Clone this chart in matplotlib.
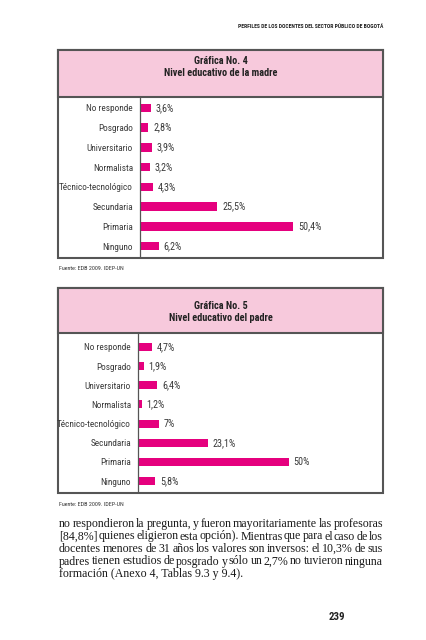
import matplotlib.pyplot as plt
from matplotlib.patches import Rectangle

categorias = ['No responde', 'Posgrado', 'Universitario', 'Normalista',
              'Técnico-tecnológico', 'Secundaria', 'Primaria', 'Ninguno']
madre = [3.6, 2.8, 3.9, 3.2, 4.3, 25.5, 50.4, 6.2]
padre = [4.7, 1.9, 6.4, 1.2, 7.0, 23.1, 50.0, 5.8]

parrafo = [
    'no respondieron la pregunta, y fueron mayoritariamente las profesoras',
    '[84,8%] quienes eligieron esta opción). Mientras que para el caso de los',
    'docentes menores de 31 años los valores son inversos: el 10,3% de sus',
    'padres tienen estudios de posgrado y sólo un 2,7% no tuvieron ninguna',
    'formación (Anexo 4, Tablas 9.3 y 9.4).',
]

W, H = 426, 640
ROSA = '#f7c9dc'
MAGENTA = '#e5007e'
GRIS = '#3a3a3a'
COND = ['Roboto Condensed', 'Sofia Sans Condensed', 'Liberation Sans Narrow', 'DejaVu Sans']

fig = plt.figure(figsize=(W / 100, H / 100), dpi=100)


def fx(x):
    return x / W


def fy(y):
    return 1 - y / H


def etiqueta(v):
    s = f'{v:.1f}'.replace('.', ',')
    if s.endswith(',0'):
        s = s[:-2]
    return s + '%'


def grafica(valores, titulo, top, head, bottom, eje, ylim, xmax, fuente_y, titulo_y):
    left, right = 58, 383
    # caja exterior
    fig.patches.append(Rectangle((fx(left), fy(bottom)), fx(right) - fx(left),
                                 fy(top) - fy(bottom), transform=fig.transFigure,
                                 facecolor='white', edgecolor='#555555', lw=1.5, zorder=0))
    fig.patches.append(Rectangle((fx(left), fy(head)), fx(right) - fx(left),
                                 fy(top) - fy(head), transform=fig.transFigure,
                                 facecolor=ROSA, edgecolor='#555555', lw=1.5, zorder=1))
    fig.text(fx((left + right) / 2), fy(titulo_y), titulo, ha='center', va='center',
             fontsize=7.4, fontweight='bold', family=COND, color='#222222', linespacing=1.35)

    ax = fig.add_axes([fx(eje), fy(bottom - 1), fx(right - 2) - fx(eje), fy(head + 1) - fy(bottom - 1)])
    ax.set_zorder(5)
    ax.patch.set_alpha(0)
    pos = list(range(len(categorias)))
    ax.barh(pos, valores, height=0.42, color=MAGENTA)
    for p, v in zip(pos, valores):
        ax.text(v + 1.6, p, etiqueta(v), va='center', ha='left', fontsize=7.3,
                family=COND, color=GRIS)
    ax.set_yticks(pos)
    ax.set_yticklabels(categorias, fontsize=6.7, family=COND, color=GRIS)
    ax.tick_params(axis='y', length=0, pad=5)
    ax.set_xticks([])
    ax.set_ylim(*ylim)
    ax.set_xlim(0, xmax)
    for s in ['top', 'right', 'bottom']:
        ax.spines[s].set_visible(False)
    ax.spines['left'].set_color('#555555')
    ax.spines['left'].set_linewidth(0.9)

    fig.text(fx(59), fy(fuente_y), 'Fuente: EDB 2009. IDEP-UN', ha='left', va='center',
             fontsize=4.3, family=COND, color='#333333')


grafica(madre, 'Gráfica No. 4\nNivel educativo de la madre', 50, 97, 258, 140,
        (7.55, -0.5), 79.4, 269, 67)
grafica(padre, 'Gráfica No. 5\nNivel educativo del padre', 288, 333, 493, 138,
        (7.57, -0.67), 80.6, 504, 312)

fig.text(fx(383), fy(27), 'PERFILES DE LOS DOCENTES DEL SECTOR PÚBLICO DE BOGOTÁ',
         ha='right', va='center', fontsize=4.1, fontweight='bold', family=COND, color='#222222')
fig.text(fx(337), fy(617), '239', ha='center', va='center', fontsize=7.8,
         fontweight='bold', family=COND, color='#222222')

# parrafo justificado
renderer = fig.canvas.get_renderer()
x0, x1 = 59, 383
TAM = 8.6
for i, linea in enumerate(parrafo):
    y = fy(524 + i * 12.5)
    palabras = linea.split(' ')
    if i == len(parrafo) - 1:
        fig.text(fx(x0), y, linea, ha='left', va='center', fontsize=TAM,
                 family='Liberation Serif', color='#1a1a1a')
        continue
    objs = [fig.text(0, y, w, ha='left', va='center', fontsize=TAM,
                     family='Liberation Serif', color='#1a1a1a') for w in palabras]
    anchos = [t.get_window_extent(renderer).width for t in objs]
    hueco = (x1 - x0 - sum(anchos)) / (len(palabras) - 1)
    x = x0
    for t, a in zip(objs, anchos):
        t.set_x(fx(x))
        x += a + hueco

fig.savefig('out.png', dpi=100)
